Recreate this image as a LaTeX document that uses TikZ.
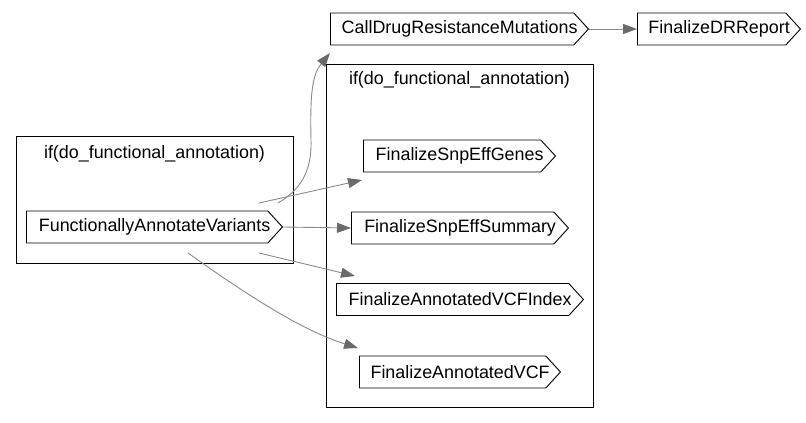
\documentclass[tikz,border=0pt]{standalone}
\usepackage{fontspec}
\setmainfont{Liberation Sans}
\usetikzlibrary{shapes.symbols,arrows.meta,calc}
\definecolor{edgegray}{HTML}{8A8A8A}
\definecolor{headgray}{HTML}{6A6A6A}
% shift the label right so that it is centred on the whole shape, pointer included
\newcommand{\sigtext}[1]{\makebox[\dimexpr\width-15pt\relax][l]{#1}}
\tikzset{
  task/.style={draw=black, line width=0.9pt, shape=signal, signal to=east, signal from=nowhere,
    signal pointer angle=95, minimum height=32pt, inner sep=2pt, anchor=west,
    font=\fontsize{17.9}{20}\selectfont, text=black},
  cluster/.style={draw=black, line width=0.9pt, rectangle, inner sep=0pt},
  clabel/.style={font=\fontsize{17.9}{20}\selectfont, inner sep=0pt},
  edge/.style={draw=edgegray, line width=0.9pt,
    -{Triangle[length=14pt,width=10pt,fill=headgray,color=headgray]}}
}
\begin{document}
\begin{tikzpicture}[x=1pt,y=-1pt]
\useasboundingbox (0,0) rectangle (806,423);
% clusters
\node[cluster, minimum width=277pt, minimum height=127pt] (lc) at (154.5,199.5) {};
\node[clabel] (lcl) at (154.5,154) {if(do\_functional\_annotation)};
\node[cluster, minimum width=267pt, minimum height=343pt] (rc) at (459.5,235.5) {};
\node[clabel] (rcl) at (459.5,80) {if(do\_functional\_annotation)};
% tasks
\node[task, minimum width=256pt] (fav) at (26,227) {\sigtext{FunctionallyAnnotateVariants}};
\node[task, minimum width=258pt] (cdr) at (330,29) {\sigtext{CallDrugResistanceMutations}};
\node[task, minimum width=163pt] (dr) at (637,29) {\sigtext{FinalizeDRReport}};
\node[task, minimum width=192pt] (gen) at (363,156) {\sigtext{FinalizeSnpEffGenes}};
\node[task, minimum width=217pt] (sum) at (351,228) {\sigtext{FinalizeSnpEffSummary}};
\node[task, minimum width=247pt] (idx) at (336,299.5) {\sigtext{FinalizeAnnotatedVCFIndex}};
\node[task, minimum width=201pt] (vcf) at (359,372) {\sigtext{FinalizeAnnotatedVCF}};
% edges
\draw[edge] ($(fav.west)+(252,-24)$) .. controls (300,190) and (312,172) .. (311,140)
   .. controls (310,95) and (312,75) .. ($(cdr.west)+(0,24)$);
\draw[edge] ($(fav.west)+(233,-24)$) -- ($(gen.west)+(-1,24)$);
\draw[edge] (fav.east) -- (sum.west);
\draw[edge] ($(fav.west)+(233,26)$) -- ($(idx.west)+(19,-23.5)$);
\draw[edge] ($(fav.west)+(162,26)$) .. controls (240,290) and (300,330) .. ($(vcf.west)+(-1,-24)$);
\draw[edge] (cdr.east) -- (dr.west);
\end{tikzpicture}
\end{document}
